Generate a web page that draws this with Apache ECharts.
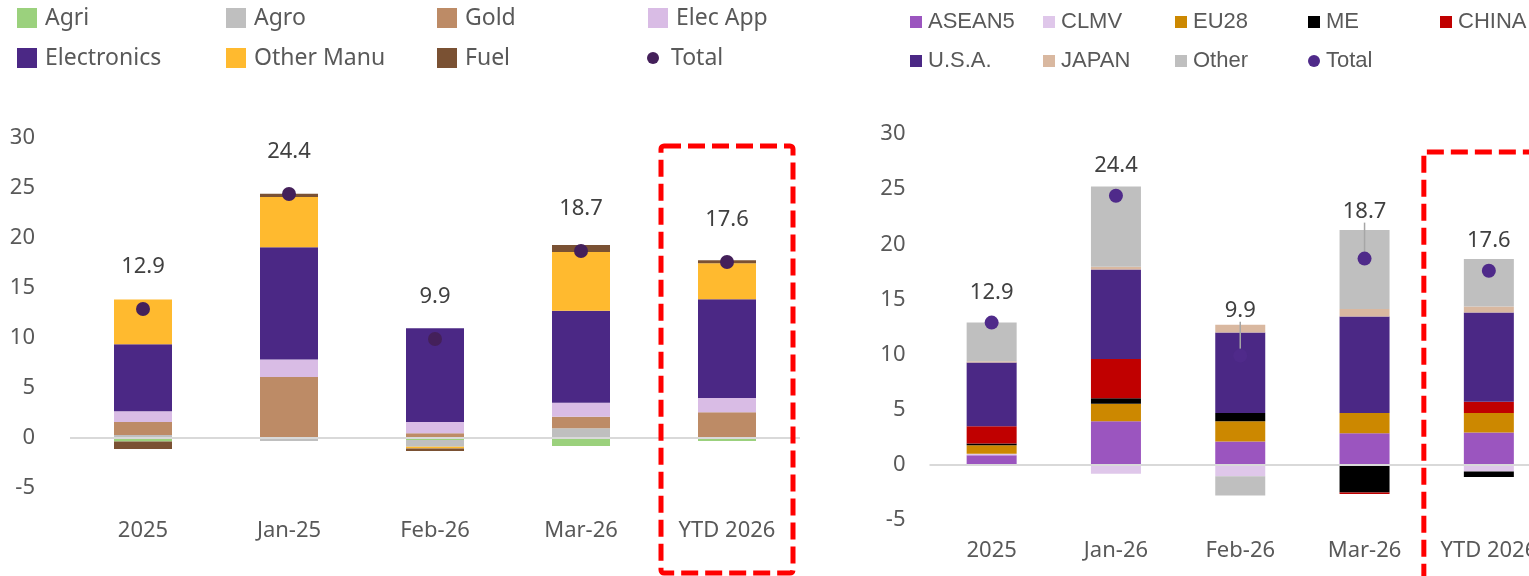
<!DOCTYPE html>
<html>
<head>
<meta charset="utf-8">
<script src="https://cdn.jsdelivr.net/npm/echarts@6/dist/echarts.min.js"></script>
<style>
  html, body { margin: 0; padding: 0; background: #fff; }
  #chart { width: 1529px; height: 576px; }
</style>
</head>
<body>
<div id="chart"></div>
<script>
// left panel: export growth by product (contribution, ppt)
const leftCats = ['2025', 'Jan-25', 'Feb-26', 'Mar-26', 'YTD 2026'];
const agri = [-0.35, -0.05, -0.2, -0.8, -0.3];
const agro = [0.3, -0.25, -0.67, 0.97, 0.05];
const gold = [1.3, 6.1, 0.47, 1.16, 2.53];
const elecApp = [1.07, 1.74, 1.14, 1.4, 1.43];
const electronics = [6.7, 11.23, 9.36, 9.2, 9.87];
const otherManu = [4.47, 5.03, -0.17, 5.87, 3.6];
const fuel = [-0.75, 0.33, -0.27, 0.7, 0.3];
const leftTotals = [12.9, 24.4, 9.9, 18.7, 17.6];

// right panel: export growth by destination (contribution, ppt)
const rightCats = ['2025', 'Jan-26', 'Feb-26', 'Mar-26', 'YTD 2026'];
const asean5 = [0.87, 3.95, 2.11, 2.86, 2.93];
const clmv = [0.13, -0.8, -1.03, 0, -0.6];
const eu28 = [0.78, 1.6, 1.84, 1.85, 1.78];
const me = [0.15, 0.48, 0.76, -2.5, -0.5];
const china = [1.57, 3.57, 0, -0.15, 1.02];
const usa = [5.79, 8.12, 7.3, 8.75, 8.09];
const japan = [0.1, 0.24, 0.7, 0.67, 0.55];
const other = [3.52, 7.28, -1.75, 7.16, 4.29];
const rightTotals = [12.9, 24.4, 9.9, 18.7, 17.6];

const yTicks = { min: -5, max: 30, interval: 5 };

// label nudges (px) for the right panel, where Excel moved two labels up
const rightLabelLift = [0, 0, -15, -17, 0];

const FONT = "'Noto Sans', sans-serif";
const TXT = '#595959';

const chart = echarts.init(document.getElementById('chart'));

function bar(name, data, color, idx, width) {
  return {
    name: name,
    type: 'bar',
    stack: 'g' + idx,
    xAxisIndex: idx,
    yAxisIndex: idx,
    barWidth: width,
    data: data,
    itemStyle: { color: color },
    emphasis: { disabled: true }
  };
}

const zeroLine = {
  silent: true,
  symbol: 'none',
  label: { show: false },
  lineStyle: { color: '#d9d9d9', width: 2, type: 'solid' },
  data: [{ yAxis: 0 }]
};

const leftBars = [
  bar('Agri', agri, '#9bd17d', 0, 58),
  bar('Agro', agro, '#bfbfbf', 0, 58),
  bar('Gold', gold, '#bd8b66', 0, 58),
  bar('Elec App', elecApp, '#d9bce5', 0, 58),
  bar('Electronics', electronics, '#4b2885', 0, 58),
  bar('Other Manu', otherManu, '#ffba2f', 0, 58),
  bar('Fuel', fuel, '#7a5133', 0, 58)
];
leftBars[0].markLine = zeroLine;

const rightBars = [
  bar('ASEAN5', asean5, '#9b55bf', 1, 50),
  bar('CLMV', clmv, '#dfc7ea', 1, 50),
  bar('EU28', eu28, '#cc8800', 1, 50),
  bar('ME', me, '#000000', 1, 50),
  bar('CHINA', china, '#c00000', 1, 50),
  bar('U.S.A.', usa, '#4b2885', 1, 50),
  bar('JAPAN', japan, '#d9b8a0', 1, 50),
  bar('Other', other, '#bfbfbf', 1, 50)
];
rightBars[0].markLine = zeroLine;

const totalLabel = {
  show: true,
  position: 'top',
  fontFamily: FONT,
  fontSize: 22,
  color: '#404040',
  formatter: (p) => p.value.toFixed(1)
};

const leftTotal = {
  name: 'Total',
  type: 'scatter',
  xAxisIndex: 0,
  yAxisIndex: 0,
  symbolSize: 14,
  z: 5,
  data: leftTotals,
  itemStyle: { color: '#44205a', opacity: 1 },
  label: { ...totalLabel, distance: 24 },
  emphasis: { disabled: true }
};

const rightTotal = {
  name: 'Total',
  type: 'scatter',
  xAxisIndex: 1,
  yAxisIndex: 1,
  symbolSize: 14,
  z: 5,
  data: rightTotals.map((v, i) => ({
    value: v,
    labelLine: { show: rightLabelLift[i] !== 0 }
  })),
  itemStyle: { color: '#4f2a8a', opacity: 1 },
  label: { ...totalLabel, distance: 12 },
  labelLine: { lineStyle: { color: '#a6a6a6', width: 1.5 } },
  labelLayout: (p) => ({ dy: rightLabelLift[p.dataIndex] }),
  emphasis: { disabled: true }
};

// one legend per slot so the columns line up like the Excel legend
function legendItem(name, left, top, opts) {
  return {
    left: left,
    top: top,
    orient: 'horizontal',
    selectedMode: false,
    itemWidth: opts.w,
    itemHeight: opts.h,
    padding: 0,
    textStyle: {
      fontFamily: opts.font,
      fontSize: opts.size,
      lineHeight: opts.lh,
      color: TXT,
      padding: [0, 0, 0, opts.pad]
    },
    data: [{ name: name, icon: opts.icon || 'rect', itemStyle: opts.color ? { color: opts.color } : undefined }]
  };
}

const LSQ = { w: 20, h: 20, font: FONT, size: 23, lh: 24, pad: 3 };
const RSQ = { w: 12, h: 12, font: "'Liberation Sans', sans-serif", size: 22, lh: 22, pad: 1 };
const legends = [
  legendItem('Agri', 17, 6, LSQ),
  legendItem('Agro', 226, 6, LSQ),
  legendItem('Gold', 437, 6, LSQ),
  legendItem('Elec App', 648, 6, LSQ),
  legendItem('Electronics', 17, 46, LSQ),
  legendItem('Other Manu', 226, 46, LSQ),
  legendItem('Fuel', 437, 46, LSQ),
  legendItem('Total', 647, 46, { ...LSQ, h: 12, icon: 'circle', color: '#44205a' }),
  legendItem('ASEAN5', 910, 11, RSQ),
  legendItem('CLMV', 1043, 11, RSQ),
  legendItem('EU28', 1175, 11, RSQ),
  legendItem('ME', 1308, 11, RSQ),
  legendItem('CHINA', 1440, 11, RSQ),
  legendItem('U.S.A.', 910, 50, RSQ),
  legendItem('JAPAN', 1043, 50, RSQ),
  legendItem('Other', 1175, 50, RSQ),
  legendItem('Total', 1308, 50, { ...RSQ, icon: 'circle', color: '#4f2a8a' })
];

function xAxis(idx, cats, margin) {
  return {
    type: 'category',
    gridIndex: idx,
    data: cats,
    axisLine: { show: false },
    axisTick: { show: false },
    axisLabel: { interval: 0, margin: margin, fontFamily: FONT, fontSize: 22, color: TXT }
  };
}

function yAxis(idx, margin) {
  return {
    type: 'value',
    gridIndex: idx,
    min: yTicks.min,
    max: yTicks.max,
    interval: yTicks.interval,
    axisLine: { show: false },
    axisTick: { show: false },
    splitLine: { show: false },
    axisLabel: { margin: margin, fontFamily: FONT, fontSize: 22, color: TXT }
  };
}

chart.setOption({
  animation: false,
  backgroundColor: '#fff',
  textStyle: { fontFamily: FONT },
  legend: legends,
  grid: [
    { left: 70, top: 138, width: 730, height: 350, outerBoundsMode: 'none' },
    // the right panel runs past the window edge, as in the source image
    { left: 929.5, top: 134, width: 621.5, height: 386, outerBoundsMode: 'none' }
  ],
  xAxis: [xAxis(0, leftCats, 32), xAxis(1, rightCats, 20)],
  yAxis: [yAxis(0, 35), yAxis(1, 24)],
  series: [...leftBars, leftTotal, ...rightBars, rightTotal]
});

// red dashed highlight boxes around the YTD column
const cxL = chart.convertToPixel({ xAxisIndex: 0 }, 'YTD 2026');
const cxR = chart.convertToPixel({ xAxisIndex: 1 }, 'YTD 2026');
const boxStyle = { fill: 'none', stroke: '#ff0000', lineWidth: 5, lineDash: [17, 7] };
chart.setOption({
  graphic: [
    { type: 'rect', shape: { x: cxL - 66, y: 146, width: 132, height: 427, r: 3 }, style: boxStyle, z: 10 },
    { type: 'rect', shape: { x: cxR - 65, y: 152, width: 160, height: 430, r: 3 }, style: boxStyle, z: 10 }
  ]
});
</script>
</body>
</html>
